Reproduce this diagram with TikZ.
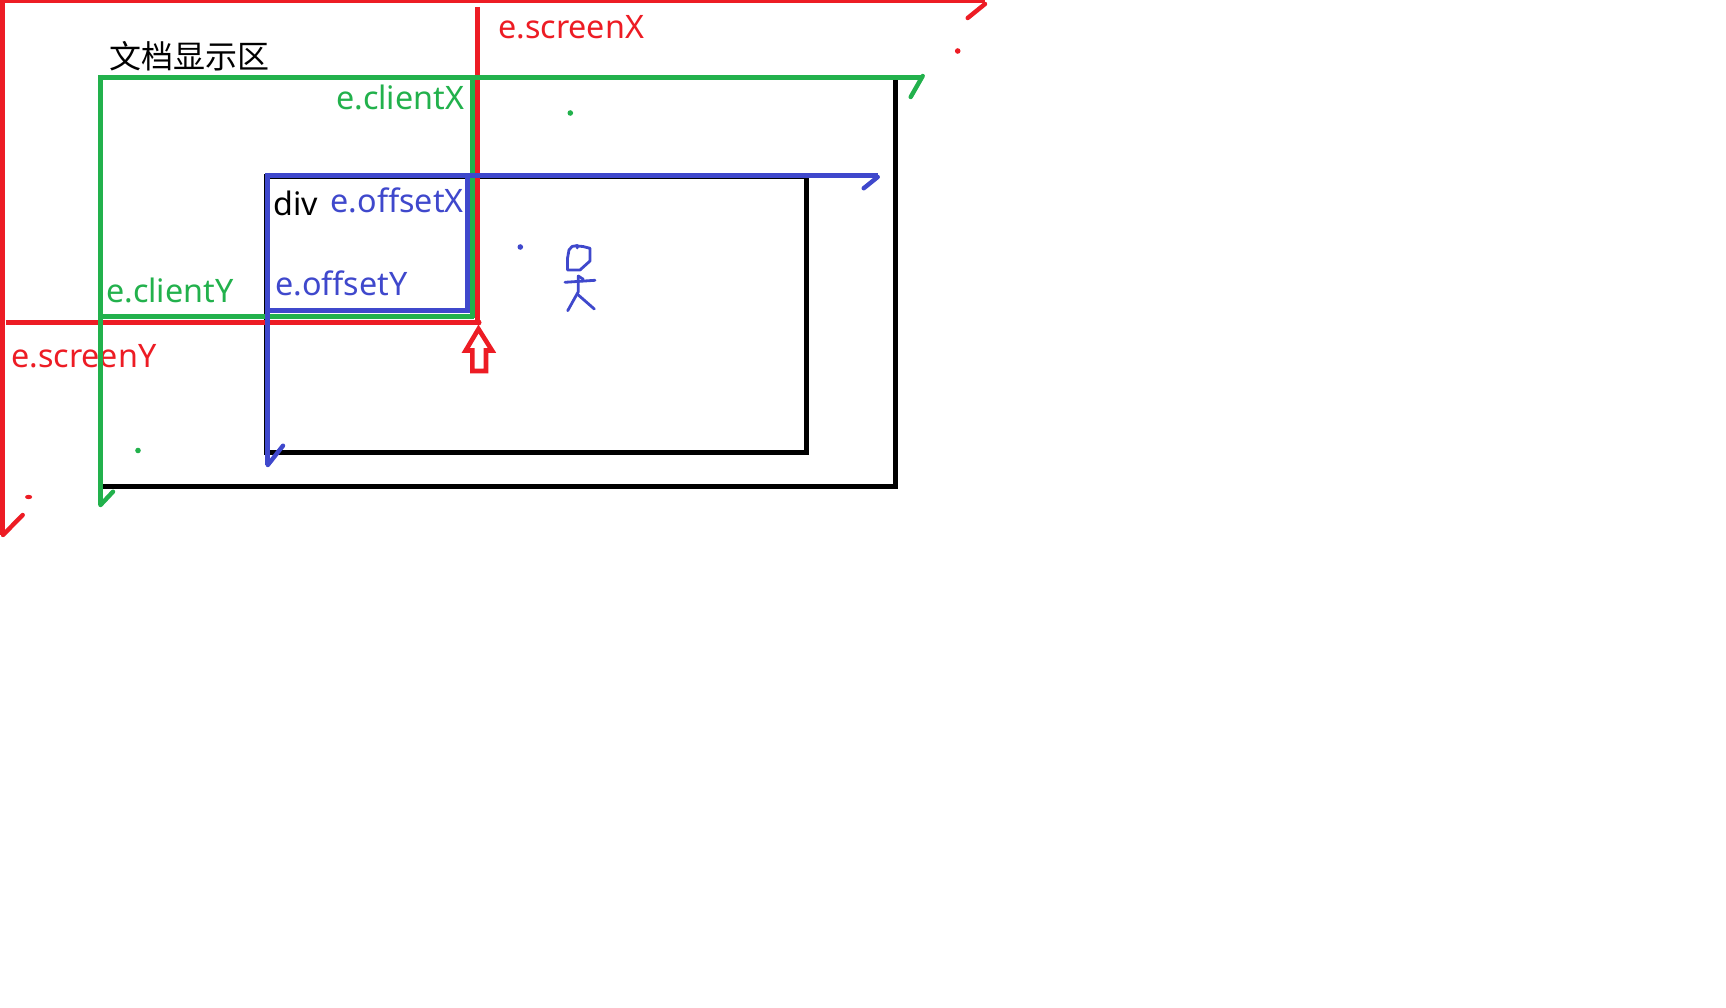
\documentclass[tikz,border=0pt]{standalone}
\usepackage{fontspec}
\setmainfont{Noto Sans}
\newfontfamily\cjk{Noto Sans CJK SC}
\definecolor{pred}{HTML}{ED1C24}
\definecolor{pgreen}{HTML}{22B14C}
\definecolor{pblue}{HTML}{3F48CC}
\tikzset{
  lbl/.style={anchor=base west,inner sep=0pt,font=\fontsize{32.3}{34}\selectfont},
  pen/.style={line width=5pt,miter limit=10},
  tip/.style={line width=4.4pt,line cap=round,line join=round},
  fine/.style={line width=2.8pt,draw=pblue,line join=round,line cap=round},
}
\begin{document}
\begin{tikzpicture}[x=1pt,y=-1pt]
\useasboundingbox[fill=white] (0,0) rectangle (1726,1008);
% labels under the lines
\node[lbl,text=pred] (screenY) at (11,367.5) {e.screenY};
\node[lbl,text=pred] (screenX) at (498,38.5) {e.screenX};
\node[lbl,text=pgreen] (clientX) at (336,109.5) {e.clientX};
\node[lbl,text=pgreen] (clientY) at (106,302.5) {e.clientY};
\node[lbl,text=pblue] (offsetX) at (330.5,213) {e.offsetX};
\node[lbl,text=pblue] (offsetY) at (275,295) {e.offsetY};
\node[lbl,text=black] (divlabel) at (273.5,216) {div};
\node[lbl,text=black,font=\cjk\fontsize{32}{34}\selectfont] (doc) at (109,69) {文档显示区};
% black boxes
\draw[pen,black] (100.5,78) rectangle (895.3,486);
\draw[pen,black] (266.8,177) rectangle (806.3,452);
% red axes
\draw[pen,pred] (0,0.5) -- (985,0.5);
\draw[pen,pred] (2.6,0) -- (2.6,535);
\draw[pen,pred] (5.5,322) -- (478.5,322);
\draw[pen,pred] (477.4,7) -- (477.4,324);
\fill[pred] (478.5,322.5) circle (3);
\draw[tip,pred] (985,4) -- (967.7,18);
\draw[tip,pred] (3,535) -- (22.7,515);
\fill[pred] (957.7,51) circle (2.8);
\fill[pred] (28.6,497) ellipse (3.6 and 2.2);
% green axes
\draw[pen,pgreen] (98,77.5) -- (922,77.5);
\draw[pen,pgreen] (100.5,75) -- (100.5,505);
\draw[pen,pgreen] (472,77) -- (472,318.4);
\draw[pen,pgreen] (100.5,316) -- (474,316);
\draw[tip,pgreen] (922.7,76) -- (910.7,97);
\draw[tip,pgreen] (100.5,505) -- (113,491.7);
\fill[pgreen] (570.3,113) circle (2.8);
\fill[pgreen] (138,450.5) circle (2.8);
% blue axes
\draw[pen,pblue] (265,175.5) -- (877.7,175.5);
\draw[pen,pblue] (267.8,173) -- (267.8,465);
\draw[pen,pblue] (467.5,178) -- (467.5,312);
\draw[pen,pblue] (267,310) -- (470,310);
\draw[tip,pblue] (877.7,177) -- (863.7,188.3);
\draw[tip,pblue] (267.8,465) -- (283,445.7);
\fill[pblue] (520.3,247) circle (2.8);
% stick figure
\draw[fine] (577.3,248) -- (577.3,245.5) -- (572,246.5) -- (569,250) -- (567.5,258.3) -- (567.5,270) -- (580,270) -- (590,261) -- (590,248.3) -- (583,246.5) -- (577.3,246);
\draw[fine] (565,282.3) -- (595,280.3);
\draw[fine] (578.3,276) -- (578.3,291.7) -- (567.7,310.7);
\draw[fine] (578.3,295) -- (594.3,309);
\draw[fine] (578.3,276) -- (583.3,279.3);
% hollow red arrow
\draw[line width=4.6pt,pred,line join=miter,miter limit=10] (478.5,329) -- (492,350.5) -- (486,350.5) -- (486,371) -- (472.3,371) -- (472.3,350.5) -- (465.7,350.5) -- cycle;
\end{tikzpicture}
\end{document}
